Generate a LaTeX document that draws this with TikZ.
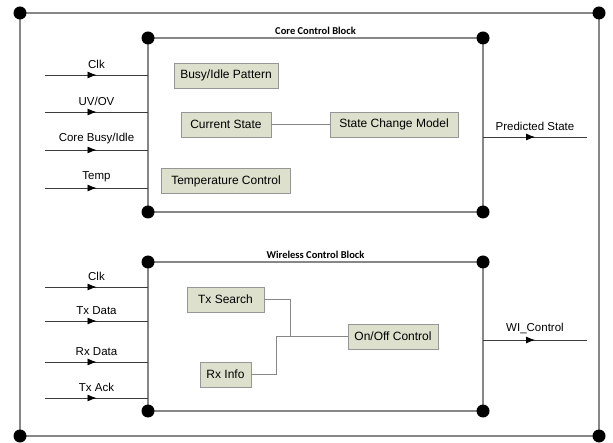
\documentclass[tikz,border=0pt]{standalone}
\usepackage{fontspec}
\setmainfont{Liberation Sans}
\newfontfamily\titlefont{Carlito}
\usetikzlibrary{calc}
\usetikzlibrary{shapes.geometric, arrows.meta, decorations.markings}
\definecolor{boxfill}{RGB}{221,224,205}
\definecolor{boxline}{RGB}{150,150,150}
\definecolor{wire}{RGB}{135,135,135}
\definecolor{sigline}{RGB}{60,60,60}
\tikzstyle{block} = [rectangle, minimum height=25pt, inner xsep=4pt, text centered, draw=boxline, fill=boxfill, font=\fontsize{12}{14}\selectfont]
\tikzstyle{frame} = [draw=wire, line width=1.3pt]
\tikzstyle{link} = [draw=wire, line width=1pt]
\tikzstyle{sig} = [draw=sigline, line width=0.8pt, postaction={decorate}, decoration={markings, mark=at position 0.5 with {\arrow[black]{Latex[length=9pt,width=7pt]}}}]
\tikzstyle{lbl} = [above=5pt, font=\fontsize{11.5}{13}\selectfont, inner sep=1pt]
\tikzstyle{ttl} = [above=3pt, inner sep=0pt, font=\titlefont\bfseries\fontsize{10.5}{12}\selectfont]

\begin{document}
\begin{tikzpicture}[x=1pt,y=-1pt,node distance=49pt]
\useasboundingbox (0,0) rectangle (613,443);
% corners
\coordinate(o1) at (20,13);
\coordinate(o2) at (599,13);
\coordinate(o3) at (599,436);
\coordinate(o4) at (20,436);
\coordinate(c1) at (148,38);
\coordinate(c2) at (483,38);
\coordinate(c3) at (483,212);
\coordinate(c4) at (148,212);
\coordinate(w1) at (148,262);
\coordinate(w2) at (483,262);
\coordinate(w3) at (483,411);
\coordinate(w4) at (148,411);

% frames
\draw[frame] (o1) -- (o2) -- (o3) -- (o4) -- cycle;
\draw[frame] (c1) -- (c2) -- (c3) -- (c4) -- cycle;
\draw[frame] (w1) -- (w2) -- (w3) -- (w4) -- cycle;
\node(ctitle)[ttl] at ($(c1)!0.5!(c2)$) {Core Control Block};
\node(wtitle)[ttl] at ($(w1)!0.5!(w2)$) {Wireless Control Block};

% core block
\node(busy)[block,minimum width=104pt] at (226,75.5) {Busy/Idle Pattern};
\node(cur)[block,minimum width=90pt,below of=busy] {Current State};
\node(temp)[block,minimum width=129pt,below of=cur,yshift=-7.5pt] {Temperature Control};
\node(scm)[block,minimum width=128pt,right of=cur,xshift=119pt] {State Change Model};
\draw[link] (cur) -- (scm);

\coordinate(ci1) at (45,75);
\coordinate(ci2) at (45,112);
\coordinate(ci3) at (45,150);
\coordinate(ci4) at (45,188);
\draw[sig] (ci1) -- node[lbl]{Clk} (ci1 -| c1);
\draw[sig] (ci2) -- node[lbl]{UV/OV} (ci2 -| c1);
\draw[sig] (ci3) -- node[lbl]{Core Busy/Idle} (ci3 -| c1);
\draw[sig] (ci4) -- node[lbl]{Temp} (ci4 -| c1);
\coordinate(co) at (587,137);
\draw[sig] (co -| c2) -- node[lbl]{Predicted State} (co);

% wireless block
\node(txs)[block,minimum width=77pt] at (225.5,299.5) {Tx Search};
\node(rxi)[block,minimum width=51pt,below of=txs,yshift=-26pt] {Rx Info};
\node(onoff)[block,minimum width=90pt] at (393,336.5) {On/Off Control};
\coordinate(rxj) at ($(rxi.east)+(25,0)$);
\coordinate(txj) at ($(txs.east)+(26,0)$);
\draw[link] (rxi.east) -| (rxj |- onoff.west) -- (onoff.west);
\draw[link] (txs.east) -| (txj |- onoff.west);

\coordinate(wi1) at (45,287);
\coordinate(wi2) at (45,321);
\coordinate(wi3) at (45,362);
\coordinate(wi4) at (45,398);
\draw[sig] (wi1) -- node[lbl]{Clk} (wi1 -| w1);
\draw[sig] (wi2) -- node[lbl]{Tx Data} (wi2 -| w1);
\draw[sig] (wi3) -- node[lbl]{Rx Data} (wi3 -| w1);
\draw[sig] (wi4) -- node[lbl]{Tx Ack} (wi4 -| w1);
\coordinate(wo) at (587,340);
\draw[sig] (wo -| w2) -- node[lbl]{WI\_Control} (wo);

% dots
\foreach \p in {o1,o2,o3,o4,c1,c2,c3,c4,w1,w2,w3,w4}
  \fill (\p) circle (6.5);
\end{tikzpicture}
\end{document}
